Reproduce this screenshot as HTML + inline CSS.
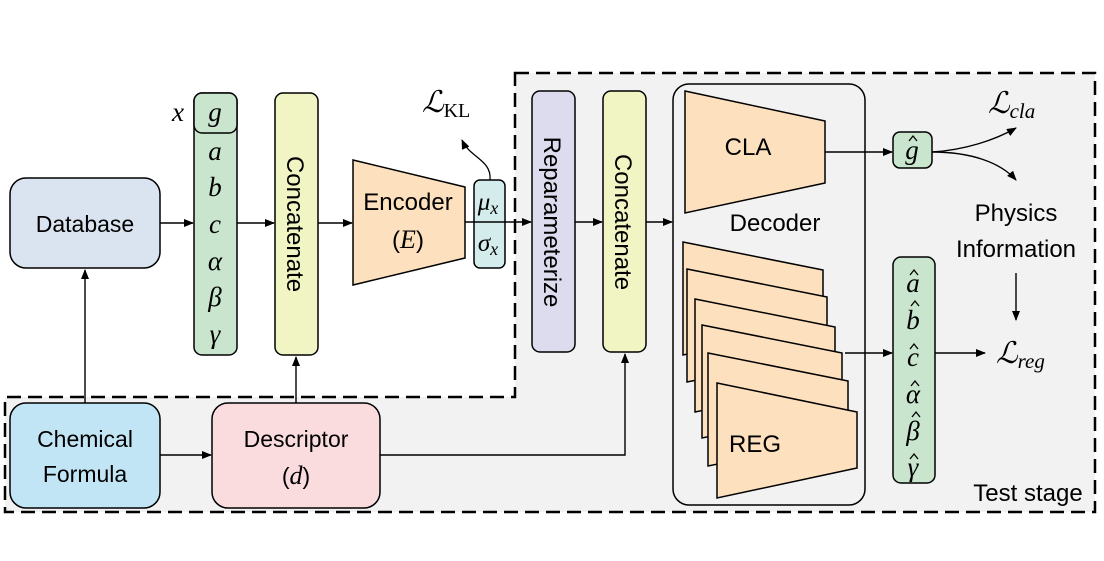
<!DOCTYPE html>
<html><head><meta charset="utf-8"><style>
body{margin:0;background:#fff}
svg{display:block}
text{font-family:"Liberation Sans","DejaVu Sans",sans-serif;fill:#000}
.m{font-family:"Liberation Serif","DejaVu Serif",serif;font-style:italic}
</style></head><body>
<svg width="1104" height="561" viewBox="0 0 1104 561" xmlns="http://www.w3.org/2000/svg">
<defs><marker id="a" markerWidth="10" markerHeight="8" refX="9" refY="4" orient="auto" markerUnits="userSpaceOnUse"><path d="M0,0L10,4L0,8z" fill="#000"/></marker></defs>
<path d="M515,73H1095V512H5V397H515Z" fill="#f2f2f2" stroke="#000" stroke-width="2.5" stroke-dasharray="14,7"/>
<rect x="10" y="178" width="150" height="90" rx="16" fill="#dae3f0" stroke="#000" stroke-width="1.5"/>
<text x="85" y="232" font-size="23" text-anchor="middle">Database</text>
<rect x="10" y="403" width="150" height="105" rx="16" fill="#c2e5f5" stroke="#000" stroke-width="1.5"/>
<text x="85" y="447" font-size="23" text-anchor="middle">Chemical</text>
<text x="85" y="482" font-size="23" text-anchor="middle">Formula</text>
<rect x="212" y="403" width="168" height="105" rx="16" fill="#fadcdf" stroke="#000" stroke-width="1.5"/>
<text x="296" y="447" font-size="23" text-anchor="middle">Descriptor</text>
<text x="296" y="484" font-size="23" text-anchor="middle">(<tspan class="m" font-size="26">d</tspan>)</text>
<rect x="194" y="93" width="43" height="262" rx="8" fill="#c9e5cd" stroke="#000" stroke-width="1.5"/>
<rect x="194" y="93" width="43" height="40" rx="8" fill="#c9e5cd" stroke="#000" stroke-width="1.5"/>
<text x="178" y="121" font-size="27" class="m" text-anchor="middle">x</text>
<g font-size="27" text-anchor="middle">
<text x="215" y="121" class="m">g</text>
<text x="215" y="160" class="m">a</text>
<text x="215" y="196" class="m">b</text>
<text x="215" y="233" class="m">c</text>
<text x="215" y="270" class="m">α</text>
<text x="215" y="306" class="m">β</text>
<text x="215" y="343" class="m">γ</text>
</g>
<rect x="275" y="93" width="43" height="262" rx="8" fill="#f1f5c4" stroke="#000" stroke-width="1.5"/>
<text transform="translate(287,224) rotate(90)" font-size="24" text-anchor="middle">Concatenate</text>
<polygon points="353,160 465,187 465,258 353,285" fill="#fde0bd" stroke="#000" stroke-width="1.5"/>
<text x="408" y="210" font-size="24" text-anchor="middle">Encoder</text>
<text x="408" y="248" font-size="24" text-anchor="middle">(<tspan class="m" font-size="26">E</tspan>)</text>
<rect x="474" y="180" width="31" height="88" rx="6" fill="#d5ecec" stroke="#000" stroke-width="1.5"/>
<text x="488" y="210" font-size="25" class="m" text-anchor="middle">μ<tspan font-size="18" dy="4">x</tspan></text>
<text x="488" y="251" font-size="25" class="m" text-anchor="middle">σ<tspan font-size="18" dy="4">x</tspan></text>
<path d="M490,180 C492,160 470,158 462,140" fill="none" stroke="#000" stroke-width="1.3" marker-end="url(#a)"/>
<text x="422" y="112" font-size="30" class="m">ℒ<tspan font-style="normal" font-size="20" dy="5">KL</tspan></text>
<rect x="532" y="91" width="43" height="261" rx="8" fill="#dcdcee" stroke="#000" stroke-width="1.5"/>
<text transform="translate(544,222) rotate(90)" font-size="24" text-anchor="middle">Reparameterize</text>
<rect x="603" y="91" width="43" height="261" rx="8" fill="#f1f5c4" stroke="#000" stroke-width="1.5"/>
<text transform="translate(615,222) rotate(90)" font-size="24" text-anchor="middle">Concatenate</text>
<rect x="673" y="84" width="192" height="421" rx="16" fill="#f2f2f2" stroke="#000" stroke-width="1.5"/>
<polygon points="685,91 825,121 825,183 685,213" fill="#fde0bd" stroke="#000" stroke-width="1.5"/>
<text x="748" y="155" font-size="24" text-anchor="middle">CLA</text>
<text x="775" y="231" font-size="24" text-anchor="middle">Decoder</text>
<g fill="#fde0bd" stroke="#000" stroke-width="1.5">
<polygon points="683,242 823,270 823,327 683,355"/>
<polygon points="687,269 827,297 827,354 687,382"/>
<polygon points="695,299 835,327 835,384 695,412"/>
<polygon points="702,325 842,353 842,410 702,438"/>
<polygon points="708,353 848,381 848,438 708,466"/>
<polygon points="717,383 857,412 857,468 717,498"/>
</g>
<text x="755" y="452" font-size="24" text-anchor="middle">REG</text>
<rect x="893" y="132" width="39" height="36" rx="7" fill="#c9e5cd" stroke="#000" stroke-width="1.5"/>
<text x="912" y="159" font-size="27" class="m" text-anchor="middle">g</text>
<rect x="893" y="257" width="42" height="226" rx="8" fill="#c9e5cd" stroke="#000" stroke-width="1.5"/>
<g font-size="27" text-anchor="middle">
<text x="913" y="292" class="m">a</text>
<text x="913" y="329" class="m">b</text>
<text x="913" y="366" class="m">c</text>
<text x="913" y="403" class="m">α</text>
<text x="913" y="440" class="m">β</text>
<text x="913" y="476" class="m">γ</text>
</g>
<g fill="none" stroke="#000" stroke-width="1.3">
<path d="M909,141l4,-5l4,5"/>
<path d="M910,275l4,-5l4,5"/>
<path d="M911,306l4,-5l4,5"/>
<path d="M910,349l4,-5l4,5"/>
<path d="M911,386l4,-5l4,5"/>
<path d="M912,417l4,-5l4,5"/>
<path d="M910,459l4,-5l4,5"/>
</g>
<text x="988" y="113" font-size="30" class="m">ℒ<tspan font-size="21" dy="5">cla</tspan></text>
<text x="1016" y="221" font-size="24" text-anchor="middle">Physics</text>
<text x="1016" y="257" font-size="24" text-anchor="middle">Information</text>
<text x="996" y="363" font-size="30" class="m">ℒ<tspan font-size="21" dy="5">reg</tspan></text>
<text x="1028" y="501" font-size="24" text-anchor="middle">Test stage</text>
<g stroke="#000" stroke-width="1.4" fill="none" marker-end="url(#a)">
<path d="M160,223H193"/>
<path d="M237,223H274"/>
<path d="M318,223H352"/>
<path d="M465,222H531"/>
<path d="M575,222H602"/>
<path d="M646,222H672"/>
<path d="M85,403V270"/>
<path d="M296,403V357"/>
<path d="M160,455H211"/>
<path d="M380,455H625V354"/>
<path d="M825,152H892"/>
<path d="M932,152C965,150 995,140 1016,128"/>
<path d="M932,152C970,152 1000,162 1016,180"/>
<path d="M1016,273V320"/>
<path d="M845,353H892"/>
<path d="M935,353H985"/>
</g>
</svg>
</body></html>
